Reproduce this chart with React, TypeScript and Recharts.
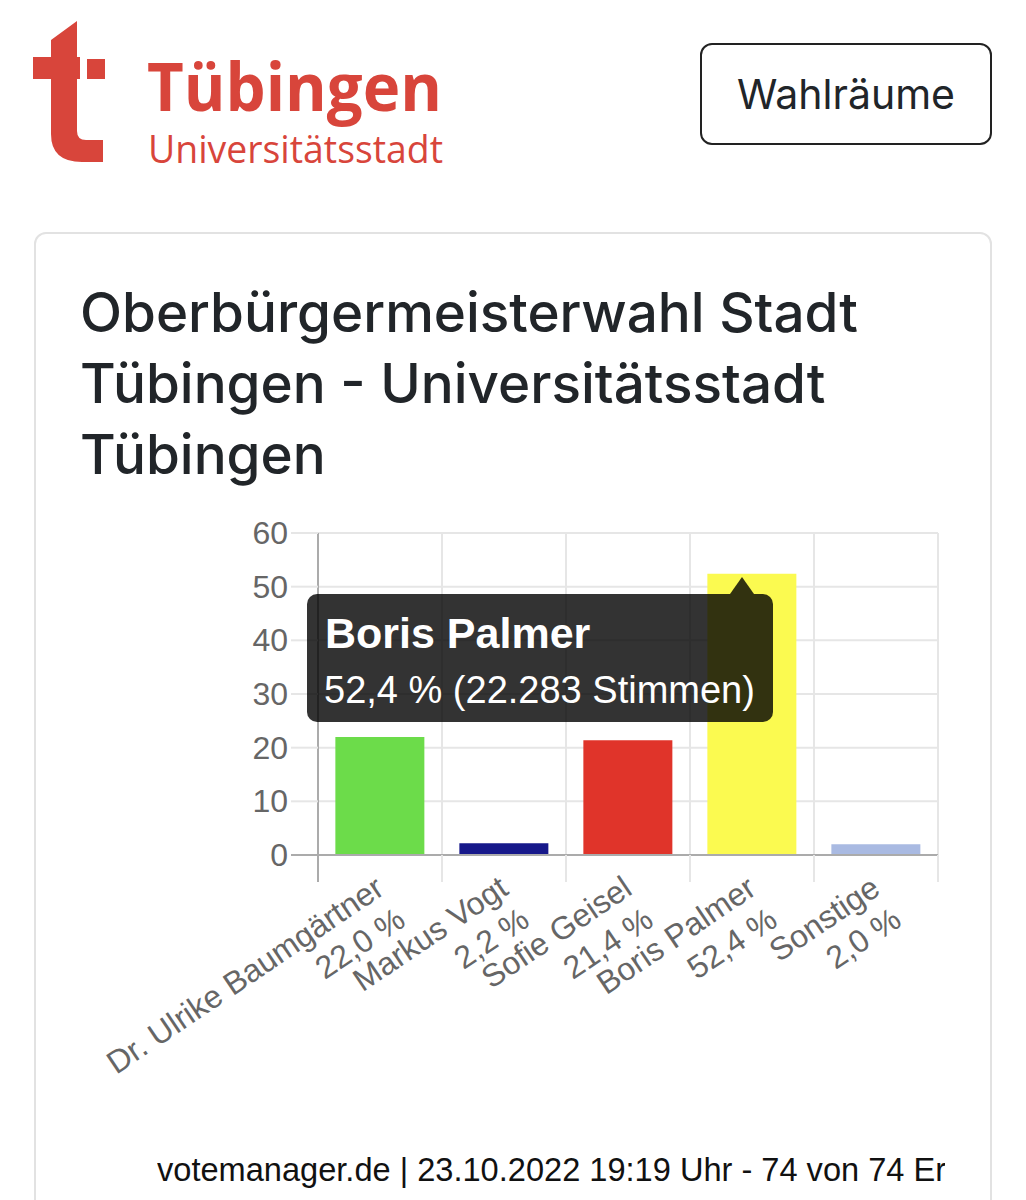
import React from "react";
import { Bar, BarChart, CartesianGrid, Cell, Tooltip, XAxis, YAxis } from "recharts";

// Wahlergebnis OB-Wahl Tübingen 23.10.2022
const candidates = ["Dr. Ulrike Baumgärtner", "Markus Vogt", "Sofie Geisel", "Boris Palmer", "Sonstige"];
const shares = [22.0, 2.2, 21.4, 52.4, 2.0];
const barColors = ["#6cdc4a", "#16188a", "#e0342a", "#fbfa50", "#a9bae2"];
const yTicks = [0, 10, 20, 30, 40, 50, 60];
const stimmen: Record<string, number> = { "Boris Palmer": 22283 };
const highlighted = 3;

const data = candidates.map((name, i) => ({ name, share: shares[i] }));

const FONT = '"Liberation Sans", Arial, Helvetica, sans-serif';
const GRID = "#e6e6e6";
const AXIS = "#ababab";

const fmtPct = (v: number) => v.toFixed(1).replace(".", ",") + " %";
const fmtVotes = (n: number) => String(n).replace(/\B(?=(\d{3})+(?!\d))/g, ".");

function XTick(props: any) {
  const { x, y, payload, index } = props;
  const half = payload.offset || 62;
  const last = index === candidates.length - 1;
  return (
    <g>
      <line x1={x - half} x2={x - half} y1={y} y2={y + 27} stroke={index === 0 ? AXIS : GRID} strokeWidth={2} />
      {last && <line x1={x + half} x2={x + half} y1={y} y2={y + 27} stroke={GRID} strokeWidth={2} />}
      <g transform={`translate(${x + 6},${y + 38})`}>
        <text transform="rotate(-34)" textAnchor="end" fontSize={32} fill="#666" fontFamily={FONT}>
          <tspan x={0} dy={0}>{payload.value}</tspan>
          <tspan x={0} dy={38}>{fmtPct(shares[index])}</tspan>
        </text>
      </g>
    </g>
  );
}

function YTick(props: any) {
  const { x, y, payload } = props;
  return (
    <g>
      <line x1={x + 3} x2={x + 30} y1={y} y2={y} stroke={payload.value === 0 ? AXIS : GRID} strokeWidth={2} />
      <text x={x} y={y} dy={11} textAnchor="end" fontSize={32} fill="#666" fontFamily={FONT}>
        {payload.value}
      </text>
    </g>
  );
}

function TipBox({ active, payload }: any) {
  if (!active || !payload || !payload.length) return null;
  const row = payload[0].payload;
  const votes = stimmen[row.name];
  return (
    <div style={{ position: "relative", width: 466, height: 128, background: "rgba(0,0,0,0.8)", borderRadius: 10, fontFamily: FONT, color: "#fff" }}>
      <div
        style={{
          position: "absolute", left: 423, top: -17, width: 0, height: 0,
          borderLeft: "12px solid transparent", borderRight: "12px solid transparent",
          borderBottom: "17px solid rgba(0,0,0,0.8)",
        }}
      />
      <div style={{ position: "absolute", left: 18, top: 18, fontSize: 43, lineHeight: "43px", fontWeight: 700, whiteSpace: "nowrap" }}>
        {row.name}
      </div>
      <div style={{ position: "absolute", left: 17, top: 77, fontSize: 38, lineHeight: "38px", whiteSpace: "nowrap" }}>
        {fmtPct(row.share)}{votes ? ` (${fmtVotes(votes)} Stimmen)` : ""}
      </div>
    </div>
  );
}

function Logo() {
  const red = "#d8453b";
  return (
    <svg width={460} height={190} style={{ position: "absolute", left: 0, top: 0 }}>
      <path
        d="M33 57 L51 57 L51 40 L77 21 L77 57 L80 57 L80 79 L77 79 L77 131 Q77 140 86 140 L103 140 L103 162 L82 162 Q51 162 51 134 L51 79 L33 79 Z"
        fill={red}
      />
      <rect x={87} y={59} width={18} height={20} fill={red} />
      <text x={147} y={111} fontFamily='"Open Sans", sans-serif' fontWeight={700} fontSize={66} fill={red} textLength={295} lengthAdjust="spacingAndGlyphs">
        Tübingen
      </text>
      <text x={148} y={163} fontFamily='"Open Sans", sans-serif' fontSize={38} fill={red} textLength={295} lengthAdjust="spacingAndGlyphs">
        Universitätsstadt
      </text>
    </svg>
  );
}

export default function App() {
  return (
    <div style={{ position: "absolute", left: 0, top: 0, width: 1026, height: 1200, overflow: "hidden", background: "#fff" }}>
      <Logo />
      <div
        style={{
          position: "absolute", left: 700, top: 43, width: 292, height: 102, boxSizing: "border-box",
          border: "2px solid #222", borderRadius: 12, display: "flex", alignItems: "center", justifyContent: "center",
          fontFamily: "Inter, sans-serif", fontSize: 41, color: "#212529",
        }}
      >
        Wahlräume
      </div>
      <div
        style={{
          position: "absolute", left: 34, top: 232, width: 958, height: 1100, boxSizing: "border-box",
          border: "2px solid #e2e2e2", borderRadius: 12,
        }}
      />
      <div
        style={{
          position: "absolute", left: 80, top: 277, width: 900, fontFamily: "Inter, sans-serif", fontSize: 54.8,
          lineHeight: "71px", fontWeight: 500, color: "#212529",
        }}
      >
        Oberbürgermeisterwahl Stadt
        <br />
        Tübingen - Universitätsstadt
        <br />
        Tübingen
      </div>
      <div style={{ position: "absolute", left: 60, top: 510 }}>
        <BarChart width={900} height={620} data={data} margin={{ top: 23, right: 22, left: 140, bottom: 15 }} barCategoryGap="14%">
          <CartesianGrid
            stroke={GRID}
            strokeWidth={2}
            verticalCoordinatesGenerator={({ offset }: any) =>
              candidates.map((_, i) => offset.left + (i * offset.width) / candidates.length).concat(offset.left + offset.width)
            }
          />
          <XAxis
            dataKey="name"
            interval={0}
            height={260}
            tickLine={false}
            tickSize={0}
            tickMargin={0}
            axisLine={{ stroke: AXIS, strokeWidth: 2 }}
            tick={<XTick />}
          />
          <YAxis
            width={118}
            domain={[0, 60]}
            ticks={yTicks}
            interval={0}
            tickLine={false}
            tickSize={27}
            tickMargin={3}
            axisLine={{ stroke: AXIS, strokeWidth: 2 }}
            tick={<YTick />}
          />
          <Bar dataKey="share" isAnimationActive={false}>
            {data.map((d, i) => (
              <Cell key={d.name} fill={barColors[i]} />
            ))}
          </Bar>
          <Tooltip
            active
            defaultIndex={highlighted}
            cursor={false}
            isAnimationActive={false}
            position={{ x: 247, y: 84 }}
            content={<TipBox />}
            wrapperStyle={{ outline: "none", zIndex: 10 }}
          />
        </BarChart>
      </div>
      <div
        style={{
          position: "absolute", left: 157, top: 1150, width: 788, overflow: "hidden", whiteSpace: "nowrap",
          fontFamily: FONT, fontSize: 32.6, lineHeight: "40px", color: "#111",
        }}
      >
        votemanager.de | 23.10.2022 19:19 Uhr - 74 von 74 Ergebnissen
      </div>
    </div>
  );
}
